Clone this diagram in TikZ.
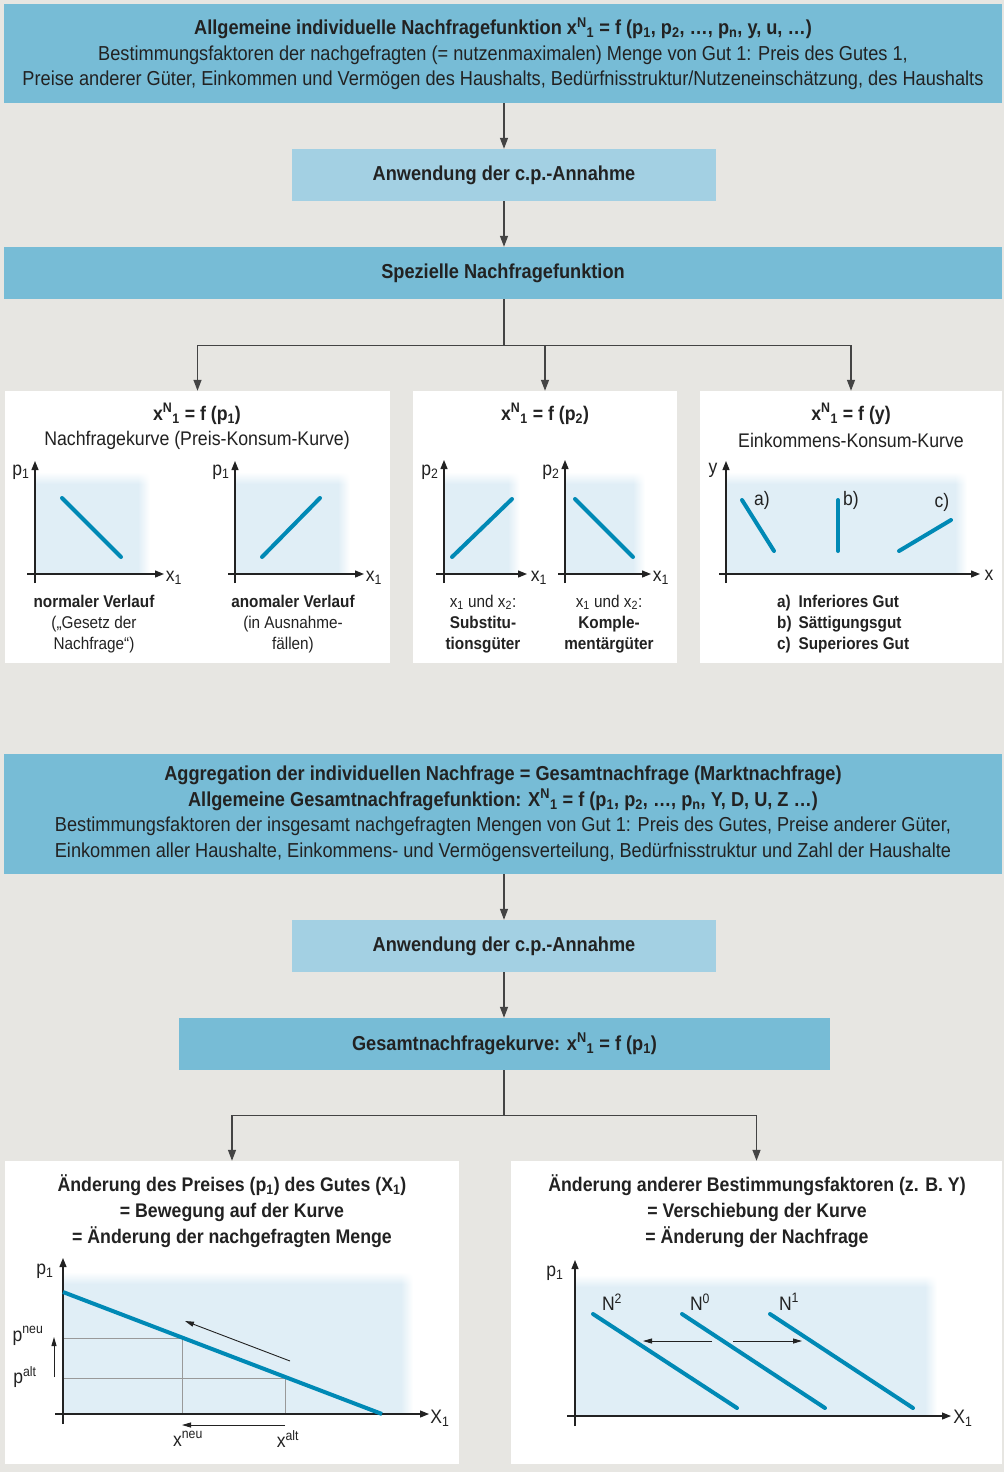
\documentclass[tikz,border=0pt]{standalone}
\usepackage{fontspec}
\setmainfont{Liberation Sans}[FakeStretch=0.9]
\usetikzlibrary{arrows.meta,shadings}
\definecolor{bgc}{HTML}{E7E6E2}
\definecolor{boxd}{HTML}{77BCD6}
\definecolor{boxl}{HTML}{A3D0E3}
\definecolor{curvec}{HTML}{0089B5}
\definecolor{shb}{HTML}{E0EEF6}
\definecolor{txt}{HTML}{222222}
\definecolor{conng}{HTML}{444444}
\definecolor{gridg}{HTML}{999999}
\newcommand\fsn{\fontsize{20.2}{25.5}\selectfont}
\newcommand\fsh{\fontsize{19.7}{26}\selectfont}
\newcommand\fsp{\fontsize{17}{21}\selectfont}
\newcommand\fsa{\fontsize{19.5}{21}\selectfont}
\newcommand\xN{x\textsuperscript{N}\textsubscript{1}}
\newcommand\shadebox[4]{%
  \fill[shb] (#1,#2+12) rectangle (#3-12,#4);
  \shade[left color=shb,right color=white] (#3-12,#2+12) rectangle (#3,#4);
  \shade[top color=white,bottom color=shb] (#1,#2) rectangle (#3-12,#2+12);
  \shade[upper left=white,upper right=white,lower left=shb,lower right=white] (#3-12,#2) rectangle (#3,#2+12);
}
\tikzset{
  boxD/.style={fill=boxd,inner sep=0,align=center,text=txt,font=\fsn},
  boxL/.style={fill=boxl,inner sep=0,align=center,text=txt,font=\fsn},
  panel/.style={fill=white,inner sep=0},
  conn/.style={draw=conng,line width=1.3,-{Triangle[length=11pt,width=8pt]}},
  axis/.style={draw=txt,line width=1.2,-{Triangle[length=9pt,width=7pt]}},
  thinarr/.style={draw=txt,line width=0.9,-{Triangle[length=9pt,width=5pt]}},
  curve/.style={draw=curvec,line width=4,line cap=round},
  gridl/.style={draw=gridg,line width=1},
  lab/.style={text=txt,font=\fsa,inner sep=0},
  head/.style={text=txt,font=\fsh,inner sep=0,align=center},
  labc/.style={text=txt,font=\fsp,inner sep=0,align=center},
}
\begin{document}
\begin{tikzpicture}[x=1pt,y=-1pt]
\fill[bgc] (0,0) rectangle (1004,1472);
\useasboundingbox (0,0) rectangle (1004,1472);

% ---------- top part ----------
\node[boxD,minimum width=998,minimum height=99] (top) at (503,53.5)
 {\textbf{Allgemeine individuelle Nachfragefunktion {\xN} = f (p\textsubscript{1}, p\textsubscript{2}, …, p\textsubscript{n}, y, u, …)}\\
  Bestimmungsfaktoren der nachgefragten (= nutzenmaximalen) Menge von Gut 1: Preis des Gutes 1,\\
  Preise anderer Güter, Einkommen und Vermögen des Haushalts, Bedürfnisstruktur/Nutzeneinschätzung, des Haushalts};
\node[boxL,minimum width=424,minimum height=52] (cp1) at (504,175) {\textbf{Anwendung der c.p.-Annahme}};
\node[boxD,minimum width=998,minimum height=52] (spec) at (503,273) {\textbf{Spezielle Nachfragefunktion}};
\node[panel,minimum width=385,minimum height=272] (pa) at (197.5,527) {};
\node[panel,minimum width=264,minimum height=272] (pb) at (545,527) {};
\node[panel,minimum width=302,minimum height=272] (pc) at (851,527) {};

\draw[conn] (cp1.north |- top.south) -- (cp1.north);
\draw[conn] (cp1.south) -- (cp1.south |- spec.north);
\draw[draw=conng,line width=1.3] (cp1.south |- spec.south) -- ++(0,46) coordinate (j1);
\draw[conn] (j1) -| (pa.north);
\draw[conn] (j1) -| (pb.north);
\draw[conn] (j1) -| (pc.north);

% panel a
\node[head] (ha1) at (197,414) {\textbf{{\xN} = f (p\textsubscript{1})}};
\node[head] (ha2) at (197,440) {Nachfragekurve (Preis-Konsum-Kurve)};
\shadebox{36}{472}{150}{574}
\draw[axis] (35,583) -- (35,461);
\draw[axis] (27,574) -- (164,574);
\draw[curve] (62,498) -- (121,557);
\node[lab] (pa1) at (21,472) {p\textsubscript{1}};
\node[lab] (xa1) at (174,578) {x\textsubscript{1}};
\node[labc] (ta1) at (94,624) {\textbf{normaler Verlauf}\\(„Gesetz der\\Nachfrage“)};
\shadebox{236}{472}{350}{574}
\draw[axis] (235,583) -- (235,461);
\draw[axis] (228,574) -- (364,574);
\draw[curve] (262,557) -- (320,498);
\node[lab] (pa2) at (221,472) {p\textsubscript{1}};
\node[lab] (xa2) at (374,578) {x\textsubscript{1}};
\node[labc] (ta2) at (293,624) {\textbf{anomaler Verlauf}\\(in Ausnahme-\\fällen)};

% panel b
\node[head] (hb1) at (545,414) {\textbf{{\xN} = f (p\textsubscript{2})}};
\shadebox{445}{472}{520}{574}
\draw[axis] (444,583) -- (444,460);
\draw[axis] (436,574) -- (527,574);
\draw[curve] (452,557) -- (512,499);
\node[lab] (pb1) at (430,472) {p\textsubscript{2}};
\node[lab] (xb1) at (539,578) {x\textsubscript{1}};
\node[labc] (tb1) at (483,624) {x\textsubscript{1} und x\textsubscript{2}:\\\textbf{Substitu-}\\\textbf{tionsgüter}};
\shadebox{566}{472}{645}{574}
\draw[axis] (565,583) -- (565,460);
\draw[axis] (558,574) -- (651,574);
\draw[curve] (575,499) -- (633,557);
\node[lab] (pb2) at (551,472) {p\textsubscript{2}};
\node[lab] (xb2) at (661,578) {x\textsubscript{1}};
\node[labc] (tb2) at (609,624) {x\textsubscript{1} und x\textsubscript{2}:\\\textbf{Komple-}\\\textbf{mentärgüter}};

% panel c
\node[head] (hc1) at (851,414) {\textbf{{\xN} = f (y)}};
\node[head] (hc2) at (851,440) {Einkommens-Konsum-Kurve};
\shadebox{727}{472}{967}{574}
\draw[axis] (726,583) -- (726,461);
\draw[axis] (719,574) -- (980,574);
\draw[curve] (742,500) -- (774,551);
\draw[curve] (838,500) -- (838,551);
\draw[curve] (899,551) -- (951,520);
\node[lab] (ca) at (762,500) {a)};
\node[lab] (cb) at (851,500) {b)};
\node[lab] (cc) at (942,502) {c)};
\node[lab] (yc) at (713,470) {y};
\node[lab] (xc) at (989,575) {x};
\node[labc,anchor=west] (legc) at (777,624) {\textbf{\begin{tabular}{@{}l@{\hspace{7pt}}l@{}}a) & Inferiores Gut\\b) & Sättigungsgut\\c) & Superiores Gut\end{tabular}}};

% ---------- bottom part ----------
\node[boxD,minimum width=998,minimum height=120] (agg) at (503,814)
 {\textbf{Aggregation der individuellen Nachfrage = Gesamtnachfrage (Marktnachfrage)}\\
  \textbf{Allgemeine Gesamtnachfragefunktion: X\textsuperscript{N}\textsubscript{1} = f (p\textsubscript{1}, p\textsubscript{2}, …, p\textsubscript{n}, Y, D, U, Z …)}\\
  Bestimmungsfaktoren der insgesamt nachgefragten Mengen von Gut 1: Preis des Gutes, Preise anderer Güter,\\
  Einkommen aller Haushalte, Einkommens- und Vermögensverteilung, Bedürfnisstruktur und Zahl der Haushalte};
\node[boxL,minimum width=424,minimum height=52] (cp2) at (504,946) {\textbf{Anwendung der c.p.-Annahme}};
\node[boxD,minimum width=651,minimum height=52] (ges) at (504.5,1044) {\textbf{Gesamtnachfragekurve: {\xN} = f (p\textsubscript{1})}};
\node[panel,minimum width=454,minimum height=303] (pl) at (232,1312.5) {};
\node[panel,minimum width=491,minimum height=303] (pr) at (756.5,1312.5) {};

\draw[conn] (cp2.north |- agg.south) -- (cp2.north);
\draw[conn] (cp2.south) -- (cp2.south |- ges.north);
\draw[draw=conng,line width=1.3] (cp2.south |- ges.south) -- ++(0,45) coordinate (j2);
\draw[conn] (j2) -| (pl.north);
\draw[conn] (j2) -| (pr.north);

% bottom left
\node[head] (hl) at (232,1211) {\textbf{Änderung des Preises (p\textsubscript{1}) des Gutes (X\textsubscript{1})}\\\textbf{= Bewegung auf der Kurve}\\\textbf{= Änderung der nachgefragten Menge}};
\shadebox{64}{1272}{413}{1414}
\draw[gridl] (63,1338) -| (182,1414);
\draw[gridl] (63,1378) -| (285,1414);
\draw[axis] (63,1424) -- (63,1258);
\draw[axis] (55,1414) -- (429,1414);
\draw[curve,line cap=butt] (63,1292) -- (382,1414);
\draw[thinarr] (290,1361) -- (185,1321);
\draw[thinarr] (54,1377) -- (54,1337);
\draw[thinarr] (285,1425) -- (182,1425);
\node[lab] (pl1) at (45,1271) {p\textsubscript{1}};
\node[lab] (pneu) at (28,1336) {p\textsuperscript{neu}};
\node[lab] (palt) at (25,1377) {p\textsuperscript{alt}};
\node[lab] (xneu) at (188,1439) {x\textsuperscript{neu}};
\node[lab] (xalt) at (288,1439) {x\textsuperscript{alt}};
\node[lab] (xl1) at (440,1418) {X\textsubscript{1}};

% bottom right
\node[head] (hr) at (757,1211) {\textbf{Änderung anderer Bestimmungsfaktoren (z. B. Y)}\\\textbf{= Verschiebung der Kurve}\\\textbf{= Änderung der Nachfrage}};
\shadebox{576}{1275}{937}{1416}
\draw[axis] (575,1426) -- (575,1260);
\draw[axis] (567,1416) -- (951,1416);
\draw[curve] (593,1314) -- (737,1408);
\draw[curve] (682,1314) -- (825,1408);
\draw[curve] (770,1314) -- (913,1408);
\node[lab] (n2) at (612,1302) {N\textsuperscript{2}};
\node[lab] (n0) at (700,1302) {N\textsuperscript{0}};
\node[lab] (n1) at (789,1302) {N\textsuperscript{1}};
\draw[thinarr] (712,1341) -- (643,1341);
\draw[thinarr] (733,1341) -- (802,1341);
\node[lab] (pr1) at (555,1273) {p\textsubscript{1}};
\node[lab] (xr1) at (963,1418) {X\textsubscript{1}};
\end{tikzpicture}
\end{document}
